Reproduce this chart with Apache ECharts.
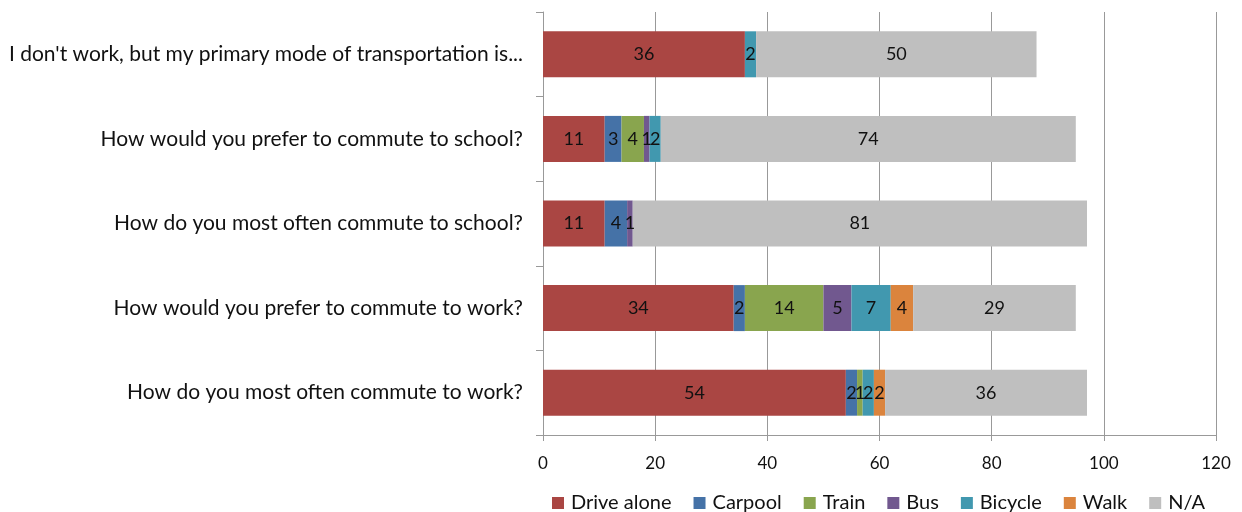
<!DOCTYPE html>
<html>
<head>
<meta charset="utf-8">
<script src="https://cdn.jsdelivr.net/npm/echarts@6/dist/echarts.min.js"></script>
<style>
  html, body { margin: 0; padding: 0; background: #fff; }
  #chart { width: 1242px; height: 512px; }
</style>
</head>
<body>
<div id="chart"></div>
<script>
// bottom to top, as ECharts lays out a category y axis
const questions = [
    'How do you most often commute to work?',
    'How would you prefer to commute to work?',
    'How do you most often commute to school?',
    'How would you prefer to commute to school?',
    "I don't work, but my primary mode of transportation is..."
];

const driveAlone = [54, 34, 11, 11, 36];
const carpool = [2, 2, 4, 3, 0];
const train = [1, 14, 0, 4, 0];
const bus = [0, 5, 1, 1, 0];
const bicycle = [2, 7, 0, 2, 2];
const walk = [2, 4, 0, 0, 0];
const notApplicable = [36, 29, 81, 74, 50];

const modes = [
    { name: 'Drive alone', values: driveAlone, color: '#AA4643' },
    { name: 'Carpool', values: carpool, color: '#4572A7' },
    { name: 'Train', values: train, color: '#89A54E' },
    { name: 'Bus', values: bus, color: '#71588F' },
    { name: 'Bicycle', values: bicycle, color: '#4198AF' },
    { name: 'Walk', values: walk, color: '#DB843D' },
    { name: 'N/A', values: notApplicable, color: '#BFBFBF' }
];

const font = 'Lato';

let option = {
    animation: false,
    textStyle: { fontFamily: font },
    legend: {
        top: 488,
        left: 547,
        itemWidth: 12,
        itemHeight: 12,
        itemGap: 22,
        icon: 'rect',
        textStyle: { fontSize: 20, color: '#111', fontFamily: font, padding: [0, 0, 0, 2] },
        data: modes.map(function (m) { return m.name; })
    },
    grid: {
        left: 543,
        right: 26,
        top: 12,
        bottom: 77
    },
    xAxis: {
        type: 'value',
        min: 0,
        max: 120,
        interval: 20,
        axisLine: { show: true, lineStyle: { color: '#999' } },
        axisTick: { show: true, length: 6, lineStyle: { color: '#999' } },
        axisLabel: { fontSize: 17, color: '#111', margin: 20, fontFamily: font },
        splitLine: { show: true, lineStyle: { color: '#999', width: 1 } }
    },
    yAxis: {
        type: 'category',
        data: questions,
        axisLine: { show: true, lineStyle: { color: '#999' } },
        axisTick: { show: true, length: 7, lineStyle: { color: '#999' } },
        axisLabel: { fontSize: 21, color: '#111', margin: 20, fontFamily: font }
    },
    series: modes.map(function (m) {
        return {
            name: m.name,
            type: 'bar',
            stack: 'total',
            barWidth: 46,
            itemStyle: { color: m.color },
            label: {
                show: true,
                position: 'inside',
                color: '#111',
                fontSize: 18,
                fontFamily: font,
                formatter: function (p) { return p.value ? String(p.value) : ''; }
            },
            data: m.values.map(function (v) { return v === 0 ? null : v; })
        };
    })
};

let myChart = echarts.init(document.getElementById('chart'));
myChart.setOption(option);
</script>
</body>
</html>
